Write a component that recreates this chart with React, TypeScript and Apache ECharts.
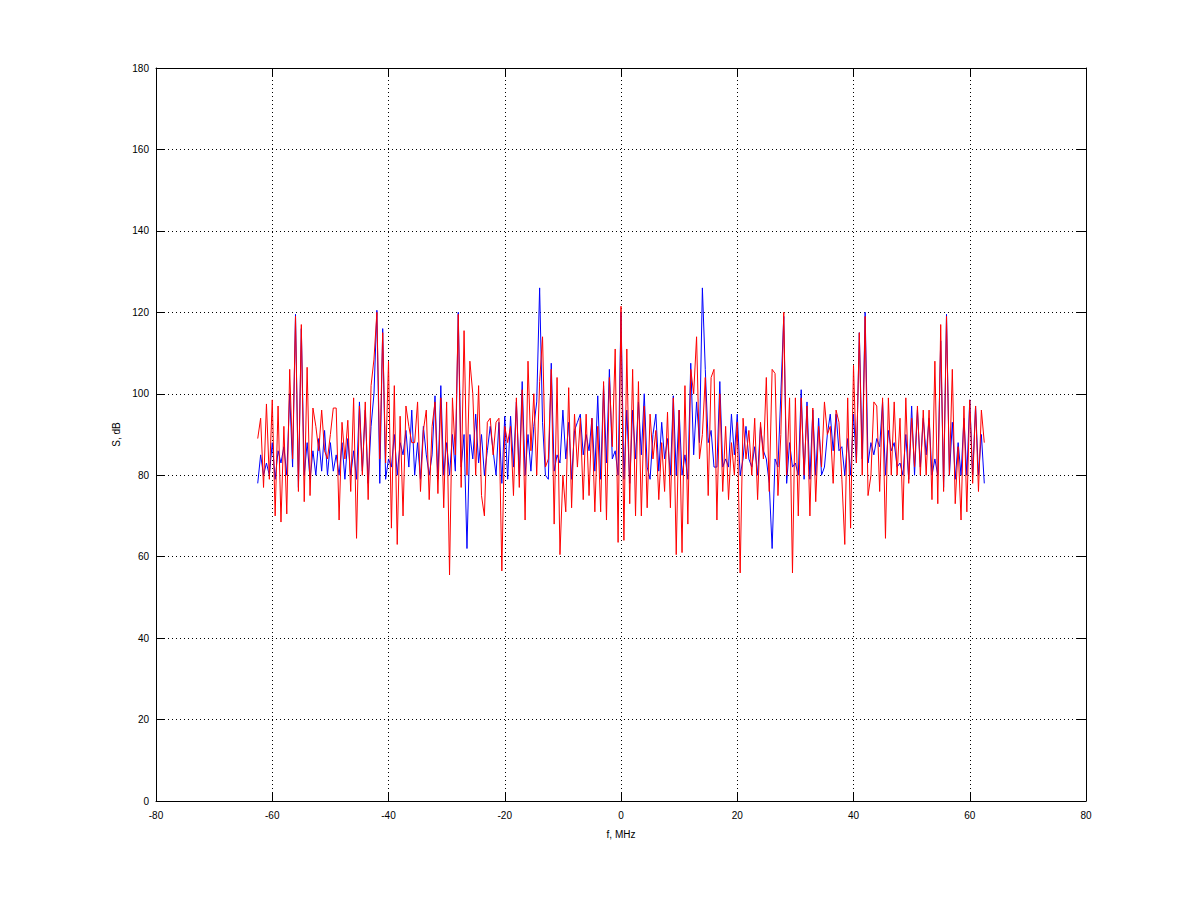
import React, { useEffect, useRef } from "react";
import * as echarts from "echarts";

// Frequency grid (MHz): first sample and spacing
const F_START = -62.5;
const F_STEP = 0.5;

// Axis ticks
const X_TICKS = [-80, -60, -40, -20, 0, 20, 40, 60, 80];
const Y_TICKS = [0, 20, 40, 60, 80, 100, 120, 140, 160, 180];

// Spectrum S, dB (blue trace)
const blueS = [
  78, 85, 80, 83, 80, 88, 79, 86, 83, 87, 80, 100, 82, 119.5, 77, 116, 80, 88, 79, 86,
  80, 89, 81, 91, 80, 88, 81, 85, 80, 88, 79, 89, 80, 86, 79, 98, 81, 96, 78, 92,
  100, 120.5, 78, 116, 79, 84, 82, 90, 80, 88, 85, 91, 82, 96, 80, 88, 79, 92, 85, 80,
  85, 99.5, 79, 102, 80, 88, 80, 90, 81, 120, 82, 90, 62, 90, 84, 95, 83, 90, 80, 86,
  92, 86, 80, 93, 78, 94.5, 79, 94.5, 82, 98, 80, 103, 80, 90, 81, 92, 98, 126, 93, 80,
  79, 107.5, 81, 85, 83, 96, 84, 93, 79, 91, 93, 95, 85, 90, 86, 94, 81, 99.5, 79, 102,
  83, 106, 84, 86, 80, 120, 79, 96, 78, 96, 84, 98, 85, 100, 82, 79, 90, 95, 81, 93,
  84, 89, 80, 99.5, 80, 96, 80, 85, 79, 107.5, 85, 98, 88, 126, 106, 88, 91, 82, 82, 103,
  82, 84, 82, 95, 85, 95, 80, 84, 92, 84, 82, 87, 80, 92, 86, 84, 78, 62, 84, 82,
  100, 119, 78, 88, 82, 83, 80, 101, 79, 98, 79, 96, 80, 94, 80, 82, 90, 95, 86, 95,
  86, 87, 80, 89, 80, 95, 83, 115, 84, 120, 83, 88, 85, 89, 87, 98, 80, 91, 86, 88,
  82, 83, 80, 90, 79, 97, 80, 96, 82, 94, 85, 94, 80, 84, 80, 113, 77, 119.5, 80, 93,
  79, 88, 80, 94, 80, 98.5, 80, 97, 80, 90, 78,
];

// Spectrum S, dB (red trace)
const redS = [
  89, 94, 77, 97.5, 79, 98.5, 70, 97, 68.5, 92, 70.5, 106, 84, 119, 76, 117, 73.5, 106.5, 75, 96.5,
  92, 86, 96, 86, 84, 90, 96.5, 96.5, 69, 93, 84, 93.5, 76, 99, 64.5, 97, 80, 98, 74, 102,
  108.5, 120, 84, 115, 83, 108, 67, 102, 63, 94.5, 70, 97, 92, 88, 88, 98, 76, 91, 96, 74,
  92, 98, 75.5, 99, 72, 98, 55.5, 99, 85, 119.5, 77, 115.5, 80, 108, 100, 80, 102, 75, 70, 93,
  94, 85, 93, 94, 56.5, 92, 88, 92, 75, 99, 77, 101, 69, 108, 86, 100, 80, 103, 114, 82,
  84, 106, 68, 104, 60.5, 80, 71, 101.5, 72, 95, 82, 94, 74, 95, 75, 94, 71, 92, 71, 103,
  69, 104, 87, 111, 63.5, 121.5, 64, 111, 73, 106, 70, 103, 70, 97, 72, 95, 84, 91, 74, 88,
  76, 95.5, 72, 99, 60.5, 96, 61, 102, 68, 106, 100, 114, 84, 90, 104, 75, 104, 106, 69, 100,
  76, 92, 74, 88, 80, 93, 56, 94, 84, 91, 80, 94, 74, 93, 84, 104, 76, 106, 105, 75,
  90, 120, 80, 99, 56, 99, 70, 99, 80, 97, 70, 96.5, 73.5, 92, 82, 98, 90, 92, 78, 96,
  93, 79, 63, 99, 67, 107, 83, 115, 80, 119, 75, 80, 98, 97, 76, 99, 64.5, 99, 80, 98,
  80, 94, 69, 99, 78, 94, 82, 97, 80, 96, 80, 96, 74, 108, 73, 117, 76, 119, 80, 106,
  73, 87, 69, 97, 71, 98.5, 78, 97, 76, 96, 88,
];

const toPairs = (vals: number[]) => vals.map((v, i) => [F_START + F_STEP * i, v]);

const FONT = "Liberation Sans, Arial, sans-serif";

export default function App() {
  const ref = useRef<HTMLDivElement>(null);
  useEffect(() => {
    if (!ref.current) return;
    const chart = echarts.init(ref.current, undefined, { renderer: "svg" });
    const axisCommon = {
      type: "value" as const,
      axisLine: { show: true, onZero: false, lineStyle: { color: "#000", width: 1 } },
      axisTick: { show: true, inside: true, length: 9, lineStyle: { color: "#000", width: 1 } },
    };
    chart.setOption({
      animation: false,
      backgroundColor: "#fff",
      grid: { left: 156, right: 114, top: 68, bottom: 100, containLabel: false },
      xAxis: [
        {
          ...axisCommon,
          position: "bottom",
          min: X_TICKS[0],
          max: X_TICKS[X_TICKS.length - 1],
          interval: X_TICKS[1] - X_TICKS[0],
          axisLabel: { color: "#000", fontSize: 10, fontFamily: FONT, margin: 9 },
          splitLine: { show: true, lineStyle: { color: "#000", width: 1, type: [1, 3] } },
          name: "f, MHz",
          nameLocation: "middle",
          nameGap: 28,
          nameTextStyle: { color: "#000", fontSize: 10, fontFamily: FONT },
        },
        {
          ...axisCommon,
          position: "top",
          min: X_TICKS[0],
          max: X_TICKS[X_TICKS.length - 1],
          interval: X_TICKS[1] - X_TICKS[0],
          axisLabel: { show: false },
          splitLine: { show: false },
        },
      ],
      yAxis: [
        {
          ...axisCommon,
          position: "left",
          min: Y_TICKS[0],
          max: Y_TICKS[Y_TICKS.length - 1],
          interval: Y_TICKS[1] - Y_TICKS[0],
          axisLabel: { color: "#000", fontSize: 10, fontFamily: FONT, margin: 7 },
          splitLine: { show: true, lineStyle: { color: "#000", width: 1, type: [1, 3] } },
          name: "S, dB",
          nameLocation: "middle",
          nameGap: 34,
          nameTextStyle: { color: "#000", fontSize: 10, fontFamily: FONT },
        },
        {
          ...axisCommon,
          position: "right",
          min: Y_TICKS[0],
          max: Y_TICKS[Y_TICKS.length - 1],
          interval: Y_TICKS[1] - Y_TICKS[0],
          axisLabel: { show: false },
          splitLine: { show: false },
        },
      ],
      series: [
        {
          type: "line",
          data: toPairs(blueS),
          xAxisIndex: 0,
          yAxisIndex: 0,
          showSymbol: false,
          silent: true,
          lineStyle: { color: "#0000ff", width: 1 },
          itemStyle: { color: "#0000ff" },
        },
        {
          type: "line",
          data: toPairs(redS),
          xAxisIndex: 0,
          yAxisIndex: 0,
          showSymbol: false,
          silent: true,
          lineStyle: { color: "#ff0000", width: 1 },
          itemStyle: { color: "#ff0000" },
        },
      ],
    });
    return () => chart.dispose();
  }, []);
  return (
    <div
      ref={ref}
      style={{ position: "fixed", left: 0, top: 0, width: 1200, height: 901, background: "#fff" }}
    />
  );
}
